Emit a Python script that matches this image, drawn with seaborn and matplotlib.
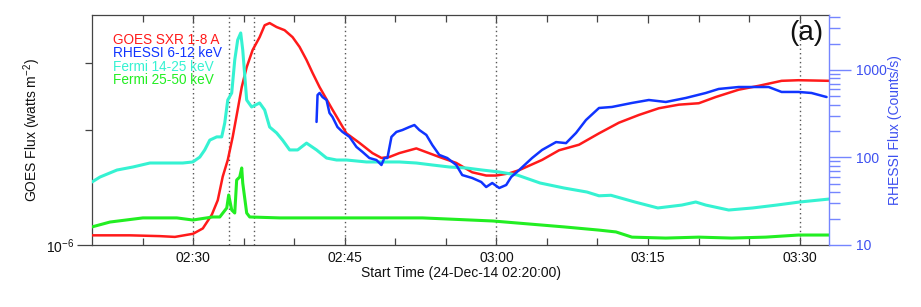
import numpy as np
import pandas as pd
import matplotlib
matplotlib.use("Agg")
import matplotlib.pyplot as plt
import seaborn as sns
from matplotlib.ticker import FixedLocator, FixedFormatter, NullFormatter

# ---------------- data (minutes after 02:20:00) ----------------
goes_t = [0, 3.75, 6.7, 8.2, 10.0, 10.96, 11.85, 12.44, 12.93, 13.43, 13.92, 14.41,
          14.81, 15.30, 15.89, 16.58, 17.08, 17.57, 18.26, 19.05, 19.84, 20.53, 21.22,
          21.82, 22.51, 23.79, 25.17, 26.46, 27.74, 28.63, 29.42, 30.40, 32.08, 33.07,
          34.35, 36.03, 37.61, 38.99, 39.98, 41.26, 42.25, 44.52, 46.20, 48.17, 50.15,
          52.12, 54.10, 56.07, 58.05, 60.02, 61.70, 63.97, 65.94, 68.21, 69.89, 72.9]
goes_flux = [1.06e-6, 1.06e-6, 1.055e-6, 1.05e-6, 1.07e-6, 1.105e-6, 1.20e-6, 1.31e-6,
             1.51e-6, 1.67e-6, 1.92e-6, 2.26e-6, 2.59e-6, 2.92e-6, 3.24e-6, 3.50e-6,
             3.76e-6, 3.81e-6, 3.72e-6, 3.65e-6, 3.50e-6, 3.30e-6, 3.05e-6, 2.82e-6,
             2.59e-6, 2.26e-6, 1.96e-6, 1.85e-6, 1.74e-6, 1.69e-6, 1.70e-6, 1.74e-6,
             1.79e-6, 1.75e-6, 1.70e-6, 1.64e-6, 1.55e-6, 1.52e-6, 1.52e-6, 1.54e-6,
             1.57e-6, 1.67e-6, 1.77e-6, 1.83e-6, 1.96e-6, 2.09e-6, 2.19e-6, 2.28e-6,
             2.33e-6, 2.35e-6, 2.44e-6, 2.55e-6, 2.61e-6, 2.69e-6, 2.70e-6, 2.69e-6]

rhessi_t = [22.21, 22.31, 22.51, 22.80, 23.20, 23.49, 23.79, 24.28, 24.78, 25.47, 26.16,
            26.75, 27.44, 28.13, 28.63, 28.92, 29.22, 29.62, 30.11, 30.70, 31.39, 31.89,
            32.38, 33.07, 33.66, 34.35, 35.14, 36.03, 36.62, 37.61, 38.50, 38.99, 39.59,
            40.28, 40.97, 41.46, 42.25, 43.53, 44.52, 45.90, 46.89, 47.88, 48.86, 50.15,
            51.43, 53.41, 55.08, 56.76, 58.74, 60.71, 61.99, 63.97, 65.94, 66.93, 68.21,
            69.89, 71.17, 72.66]
rhessi_rate = [255, 518, 546, 491, 454, 323, 290, 223, 196, 172, 132,
               116, 98.6, 93.6, 82.1, 98.6, 98.6, 172, 196, 206, 223, 235,
               206, 181, 139, 107, 98.6, 82.1, 63, 58.3, 52.5, 46, 51.1,
               44.8, 48.5, 59.8, 71.9, 98.6, 122, 150, 146, 191, 268, 368,
               378, 420, 454, 431, 479, 546, 607, 639, 639, 639, 561,
               561, 546, 491]

fermi_lo_t = [0, 0.79, 2.47, 4.05, 5.73, 7.40, 8.98, 9.97, 10.66, 11.15, 11.65, 12.34,
              12.83, 13.13, 13.43, 13.82, 14.12, 14.41, 14.71, 14.91, 15.30, 15.79,
              16.58, 17.08, 17.57, 18.26, 18.85, 19.55, 20.34, 21.22, 22.21, 23.20,
              24.19, 25.17, 27.15, 28.73, 30.40, 32.08, 33.66, 35.34, 37.02, 38.60,
              40.28, 42.05, 44.32, 46.69, 48.96, 50.15, 51.33, 53.70, 55.97, 58.34,
              59.72, 60.71, 62.98, 65.35, 67.72, 70.0, 72.9]
fermi_lo_rate = [52.5, 59.8, 71.9, 77.9, 86.5, 86.5, 86.5, 88.9, 101, 122, 158, 172,
                 172, 248, 454, 546, 1301, 2203, 2649, 1693, 454, 378,
                 420, 349, 223, 191, 158, 122, 122, 146, 122, 98.6,
                 93.6, 93.6, 88.9, 88.9, 88.9, 86.5, 82.1, 77.9, 75.9, 71.9,
                 68.3, 63.1, 51.1, 44.8, 40.3, 36.5, 37.0, 31.0, 26.5, 28.6,
                 31.0, 28.6, 25.1, 26.5, 28.6, 31.0, 33.5]

fermi_hi_t = [0, 1.78, 5.03, 8.39, 9.97, 11.94, 12.64, 13.33, 13.52, 13.82, 14.12,
              14.31, 14.61, 14.81, 14.91, 15.30, 15.60, 18.56, 21.82, 24.48, 32.68,
              39.68, 46.69, 50.15, 51.83, 53.41, 56.76, 60.02, 63.28, 66.63, 69.89, 72.9]
fermi_hi_rate = [16.1, 18.3, 20.4, 20.4, 19.3, 20.9, 20.9, 26.5, 37.3, 25.1, 23.2,
                 55.3, 59.8, 75.9, 51.1, 23.2, 20.9, 20.4, 20.4, 20.4, 20.4,
                 18.8, 16.1, 14.8, 14.1, 12.3, 12.0, 12.3, 12.0, 12.3, 13.0, 13.0]

tick_minutes = [10, 25, 40, 55, 70]
tick_labels = ["02:30", "02:45", "03:00", "03:15", "03:30"]
minor_minutes = [5, 15, 20, 30, 35, 45, 50, 60, 65]
dotted_times = [10, 13.55, 16.0, 25, 40, 70]

legend_labels = ["GOES SXR 1-8 A", "RHESSI 6-12 keV", "Fermi 14-25 keV", "Fermi 25-50 keV"]

# ---------------- style ----------------
sns.set_theme(style="white")
plt.rcParams['font.family'] = ['Liberation Sans', 'DejaVu Sans']
plt.rcParams['mathtext.fontset'] = 'custom'
plt.rcParams['mathtext.rm'] = 'Liberation Sans'
plt.rcParams['mathtext.it'] = 'Liberation Sans:italic'

c_red = '#ff1a1a'
c_blue = '#1034ff'
c_cyan = '#35f2d2'
c_green = '#22ee22'
c_axis_blue = '#7585ff'
c_text_blue = '#3d50f0'
c_frame = '#444444'

fig = plt.figure(figsize=(9.21, 3.07), dpi=100)
ax = fig.add_axes([92 / 921, 1 - 245 / 307, 737 / 921, 230 / 307])
ax2 = ax.twinx()

goes_df = pd.DataFrame({'t': goes_t, 'flux': goes_flux})
rh_df = pd.DataFrame({'t': rhessi_t, 'rate': rhessi_rate})
flo_df = pd.DataFrame({'t': fermi_lo_t, 'rate': fermi_lo_rate})
fhi_df = pd.DataFrame({'t': fermi_hi_t, 'rate': fermi_hi_rate})

for tt in dotted_times:
    ax.axvline(tt, color='#555555', lw=1.0, ls=(0, (1, 2.2)), zorder=1)

sns.lineplot(data=goes_df, x='t', y='flux', ax=ax, color=c_red, lw=1.8,
             estimator=None, sort=False, zorder=3)
sns.lineplot(data=fhi_df, x='t', y='rate', ax=ax2, color=c_green, lw=2.2,
             estimator=None, sort=False)
sns.lineplot(data=flo_df, x='t', y='rate', ax=ax2, color=c_cyan, lw=2.2,
             estimator=None, sort=False)
sns.lineplot(data=rh_df, x='t', y='rate', ax=ax2, color=c_blue, lw=1.8,
             estimator=None, sort=False)

ax.set_yscale('log')
ax2.set_yscale('log')
ax.set_xlim(0, 72.9)
ax.set_ylim(1e-6, 4.0e-6)
ax2.set_ylim(10, 4250)

# x axis
ax.xaxis.set_major_locator(FixedLocator(tick_minutes))
ax.xaxis.set_major_formatter(FixedFormatter(tick_labels))
ax.xaxis.set_minor_locator(FixedLocator(minor_minutes))
ax.tick_params(axis='x', which='major', direction='in', length=6, width=0.9,
               top=True, bottom=True, labelsize=10, pad=4, colors=c_frame, labelcolor='#111111')
ax.tick_params(axis='x', which='minor', direction='in', length=5, width=0.9,
               top=True, bottom=True, colors=c_frame)
ax.set_xlabel('Start Time (24-Dec-14 02:20:00)', fontsize=10, color='#111111')
ax.xaxis.set_label_coords(0.5, -0.092)

# left y axis
ax.yaxis.set_major_locator(FixedLocator([1e-6]))
ax.yaxis.set_major_formatter(FixedFormatter(['$10^{-6}$']))
ax.yaxis.set_minor_locator(FixedLocator([2e-6, 3e-6]))
ax.yaxis.set_minor_formatter(NullFormatter())
ax.tick_params(axis='y', which='major', direction='out', length=11, width=0.9,
               left=True, right=False, labelsize=10, pad=1.5, colors=c_frame, labelcolor='#111111')
ax.tick_params(axis='y', which='minor', direction='out', length=5, width=0.9,
               left=True, right=False, colors=c_frame)
ax.set_ylabel('GOES Flux (watts m$^{-2}$)', fontsize=10, color='#111111')
ax.yaxis.set_label_coords(-0.066, 0.5)

# right y axis
ax2.yaxis.set_major_locator(FixedLocator([10, 100, 1000]))
ax2.yaxis.set_major_formatter(FixedFormatter(['10', '100', '1000']))
ax2.yaxis.set_minor_locator(FixedLocator([20, 30, 40, 50, 60, 70, 80, 90,
                                          200, 300, 400, 500, 600, 700, 800, 900,
                                          2000, 3000, 4000]))
ax2.yaxis.set_minor_formatter(NullFormatter())
ax2.tick_params(axis='y', which='major', direction='out', length=16, width=1.0,
                right=True, left=False, labelsize=10, pad=3.5,
                colors=c_axis_blue, labelcolor=c_text_blue)
ax2.tick_params(axis='y', which='minor', direction='out', length=8, width=1.0,
                right=True, left=False, colors=c_axis_blue)
ax2.set_ylabel('RHESSI Flux (Counts/s)', fontsize=10, color=c_text_blue)
ax2.yaxis.set_label_coords(1.080, 0.5)
ax2.set_xlabel('')

for s in ['left', 'top', 'bottom']:
    ax.spines[s].set_color(c_frame)
    ax.spines[s].set_linewidth(0.9)
    ax2.spines[s].set_visible(False)
ax.spines['right'].set_visible(False)
ax2.spines['right'].set_color(c_axis_blue)
ax2.spines['right'].set_linewidth(1.0)

# legend as coloured text
leg_colors = [c_red, c_blue, c_cyan, c_green]
leg_y = [0.892, 0.835, 0.775, 0.718]
for lab, col, yy in zip(legend_labels, leg_colors, leg_y):
    ax2.text(0.0285, yy, lab, color=col, fontsize=9.8, ha='left', va='center',
             transform=ax2.transAxes)

ax2.text(0.969, 0.922, '(a)', fontsize=20, ha='center', va='center',
         color='#111111', transform=ax2.transAxes)

fig.savefig('out.png', dpi=100)
